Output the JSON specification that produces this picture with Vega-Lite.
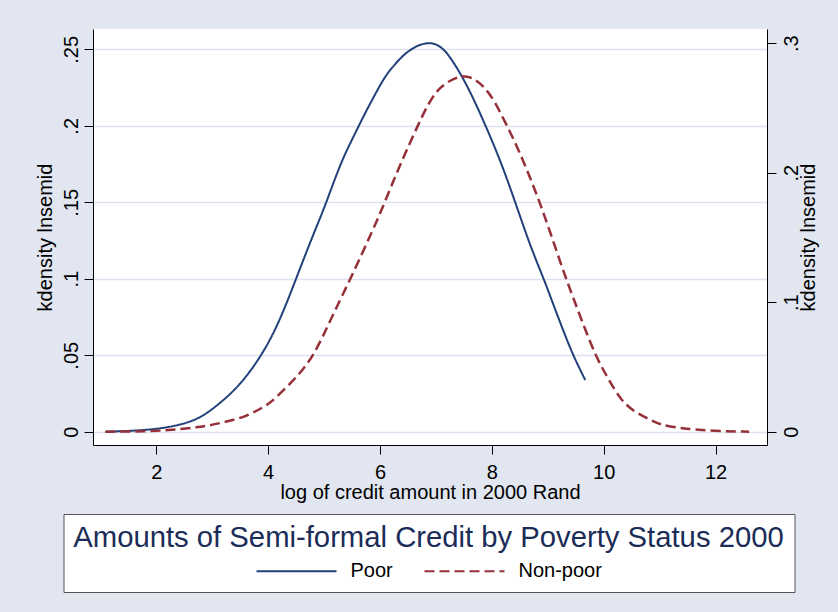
{
  "$schema": "https://vega.github.io/schema/vega-lite/v6.json",
  "width": 674,
  "height": 416,
  "autosize": {"type": "none"},
  "padding": {"left": 93, "top": 29, "right": 71, "bottom": 167},
  "background": "#e1e6f0",
  "config": {
    "view": {"fill": "white", "stroke": null},
    "font": "Liberation Sans",
    "axis": {
      "domainColor": "black",
      "domainWidth": 1,
      "tickColor": "black",
      "tickSize": 9,
      "labelColor": "black",
      "titleColor": "black",
      "labelFont": "Liberation Sans",
      "titleFont": "Liberation Sans",
      "labelFontSize": 20,
      "titleFontSize": 20,
      "titleFontWeight": "normal",
      "gridColor": "#dde3ee",
      "gridWidth": 1.5
    }
  },
  "data": {
    "values": [
      {"x": 1.09, "density": 0, "series": "Poor"},
      {"x": 1.5, "density": 0.0004, "series": "Poor"},
      {"x": 2.0, "density": 0.0016, "series": "Poor"},
      {"x": 2.43, "density": 0.0044, "series": "Poor"},
      {"x": 2.79, "density": 0.0088, "series": "Poor"},
      {"x": 3.14, "density": 0.0186, "series": "Poor"},
      {"x": 3.5, "density": 0.0305, "series": "Poor"},
      {"x": 3.89, "density": 0.05, "series": "Poor"},
      {"x": 4.19, "density": 0.0709, "series": "Poor"},
      {"x": 4.5, "density": 0.1, "series": "Poor"},
      {"x": 4.72, "density": 0.121, "series": "Poor"},
      {"x": 4.96, "density": 0.1425, "series": "Poor"},
      {"x": 5.05, "density": 0.151, "series": "Poor"},
      {"x": 5.2, "density": 0.166, "series": "Poor"},
      {"x": 5.35, "density": 0.1798, "series": "Poor"},
      {"x": 5.5, "density": 0.191, "series": "Poor"},
      {"x": 5.62, "density": 0.1999, "series": "Poor"},
      {"x": 5.75, "density": 0.2095, "series": "Poor"},
      {"x": 5.89, "density": 0.219, "series": "Poor"},
      {"x": 6.0, "density": 0.2265, "series": "Poor"},
      {"x": 6.13, "density": 0.2343, "series": "Poor"},
      {"x": 6.27, "density": 0.2404, "series": "Poor"},
      {"x": 6.42, "density": 0.2463, "series": "Poor"},
      {"x": 6.57, "density": 0.2504, "series": "Poor"},
      {"x": 6.72, "density": 0.2533, "series": "Poor"},
      {"x": 6.9, "density": 0.2545, "series": "Poor"},
      {"x": 7.05, "density": 0.2527, "series": "Poor"},
      {"x": 7.2, "density": 0.248, "series": "Poor"},
      {"x": 7.44, "density": 0.2343, "series": "Poor"},
      {"x": 7.65, "density": 0.2195, "series": "Poor"},
      {"x": 7.89, "density": 0.2, "series": "Poor"},
      {"x": 8.15, "density": 0.1776, "series": "Poor"},
      {"x": 8.42, "density": 0.15, "series": "Poor"},
      {"x": 8.69, "density": 0.121, "series": "Poor"},
      {"x": 8.93, "density": 0.0998, "series": "Poor"},
      {"x": 9.05, "density": 0.088, "series": "Poor"},
      {"x": 9.23, "density": 0.0705, "series": "Poor"},
      {"x": 9.45, "density": 0.05, "series": "Poor"},
      {"x": 9.67, "density": 0.0338, "series": "Poor"},
      {"x": 1.09, "density": 0, "series": "Non-poor"},
      {"x": 1.5, "density": 0.0001, "series": "Non-poor"},
      {"x": 2.0, "density": 0.0005, "series": "Non-poor"},
      {"x": 2.43, "density": 0.0019, "series": "Non-poor"},
      {"x": 2.79, "density": 0.0035, "series": "Non-poor"},
      {"x": 3.14, "density": 0.0065, "series": "Non-poor"},
      {"x": 3.62, "density": 0.0116, "series": "Non-poor"},
      {"x": 3.98, "density": 0.0206, "series": "Non-poor"},
      {"x": 4.1, "density": 0.0245, "series": "Non-poor"},
      {"x": 4.46, "density": 0.0399, "series": "Non-poor"},
      {"x": 4.63, "density": 0.0485, "series": "Non-poor"},
      {"x": 4.81, "density": 0.0592, "series": "Non-poor"},
      {"x": 4.99, "density": 0.0745, "series": "Non-poor"},
      {"x": 5.17, "density": 0.0914, "series": "Non-poor"},
      {"x": 5.47, "density": 0.1179, "series": "Non-poor"},
      {"x": 5.78, "density": 0.147, "series": "Non-poor"},
      {"x": 5.95, "density": 0.1635, "series": "Non-poor"},
      {"x": 6.06, "density": 0.1745, "series": "Non-poor"},
      {"x": 6.33, "density": 0.2034, "series": "Non-poor"},
      {"x": 6.72, "density": 0.2408, "series": "Non-poor"},
      {"x": 6.9, "density": 0.2562, "series": "Non-poor"},
      {"x": 7.08, "density": 0.2665, "series": "Non-poor"},
      {"x": 7.32, "density": 0.273, "series": "Non-poor"},
      {"x": 7.53, "density": 0.2752, "series": "Non-poor"},
      {"x": 7.7, "density": 0.2722, "series": "Non-poor"},
      {"x": 7.86, "density": 0.2665, "series": "Non-poor"},
      {"x": 8.04, "density": 0.2562, "series": "Non-poor"},
      {"x": 8.27, "density": 0.2363, "series": "Non-poor"},
      {"x": 8.48, "density": 0.2176, "series": "Non-poor"},
      {"x": 8.69, "density": 0.1955, "series": "Non-poor"},
      {"x": 8.87, "density": 0.1755, "series": "Non-poor"},
      {"x": 9.05, "density": 0.1532, "series": "Non-poor"},
      {"x": 9.23, "density": 0.1301, "series": "Non-poor"},
      {"x": 9.38, "density": 0.112, "series": "Non-poor"},
      {"x": 9.58, "density": 0.089, "series": "Non-poor"},
      {"x": 9.85, "density": 0.0587, "series": "Non-poor"},
      {"x": 10.06, "density": 0.0425, "series": "Non-poor"},
      {"x": 10.3, "density": 0.0245, "series": "Non-poor"},
      {"x": 10.54, "density": 0.0155, "series": "Non-poor"},
      {"x": 10.84, "density": 0.009, "series": "Non-poor"},
      {"x": 11.02, "density": 0.0052, "series": "Non-poor"},
      {"x": 11.37, "density": 0.0026, "series": "Non-poor"},
      {"x": 11.97, "density": 0.0005, "series": "Non-poor"},
      {"x": 12.6, "density": 0, "series": "Non-poor"}
    ]
  },
  "encoding": {
    "x": {
      "field": "x",
      "type": "quantitative",
      "scale": {"domain": [0.868, 12.92], "nice": false, "zero": false},
      "axis": {
        "values": [2, 4, 6, 8, 10, 12],
        "grid": false,
        "title": "log of credit amount in 2000 Rand",
        "labelPadding": 8,
        "titlePadding": 0
      }
    },
    "color": {
      "field": "series",
      "type": "nominal",
      "scale": {"domain": ["Poor", "Non-poor"], "range": ["#22407a", "#963039"]},
      "legend": {
        "orient": "none",
        "legendX": -29.5,
        "legendY": 485,
        "direction": "horizontal",
        "title": "Amounts of Semi-formal Credit by Poverty Status 2000",
        "titleFont": "Liberation Sans",
        "titleFontSize": 29.25,
        "titleFontWeight": "normal",
        "titleColor": "#1c2c58",
        "titleAnchor": "middle",
        "titleLimit": 1000,
        "titlePadding": 8,
        "labelFont": "Liberation Sans",
        "labelFontSize": 20,
        "labelColor": "black",
        "symbolType": "stroke",
        "symbolSize": 6400,
        "symbolStrokeWidth": 2,
        "labelOffset": 13,
        "columnPadding": 30,
        "clipHeight": 20,
        "padding": 10,
        "fillColor": "white",
        "strokeColor": "#555555"
      }
    },
    "strokeDash": {
      "field": "series",
      "type": "nominal",
      "scale": {"domain": ["Poor", "Non-poor"], "range": [[1, 0], [10, 5]]}
    }
  },
  "layer": [
    {
      "transform": [{"filter": "datum.series === 'Poor'"}],
      "mark": {"type": "line", "strokeWidth": 2, "interpolate": "basis"},
      "encoding": {
        "y": {
          "field": "density",
          "type": "quantitative",
          "scale": {"domain": [-0.0087, 0.2633], "nice": false, "zero": false},
          "axis": {
            "orient": "left",
            "values": [0, 0.05, 0.1, 0.15, 0.2, 0.25],
            "labelExpr": "datum.value == 0 ? '0' : substring(format(datum.value, '.2~f'), 1)",
            "labelAngle": 270,
            "labelAlign": "center",
            "labelBaseline": "bottom",
            "labelPadding": 3,
            "grid": true,
            "title": "kdensity lnsemid",
            "titlePadding": 6
          }
        }
      }
    },
    {
      "transform": [{"filter": "datum.series === 'Non-poor'"}],
      "mark": {"type": "line", "strokeWidth": 2.5, "interpolate": "basis"},
      "encoding": {
        "y": {
          "field": "density",
          "type": "quantitative",
          "scale": {"domain": [-0.0103, 0.311], "nice": false, "zero": false},
          "axis": {
            "orient": "right",
            "values": [0, 0.1, 0.2, 0.3],
            "labelExpr": "datum.value == 0 ? '0' : substring(format(datum.value, '.1~f'), 1)",
            "labelAngle": 270,
            "labelAlign": "center",
            "labelBaseline": "top",
            "labelPadding": 5,
            "grid": false,
            "title": "kdensity lnsemid",
            "titleAngle": 270,
            "titleBaseline": "top",
            "titlePadding": -3
          }
        }
      }
    }
  ],
  "resolve": {"scale": {"y": "independent"}}
}
